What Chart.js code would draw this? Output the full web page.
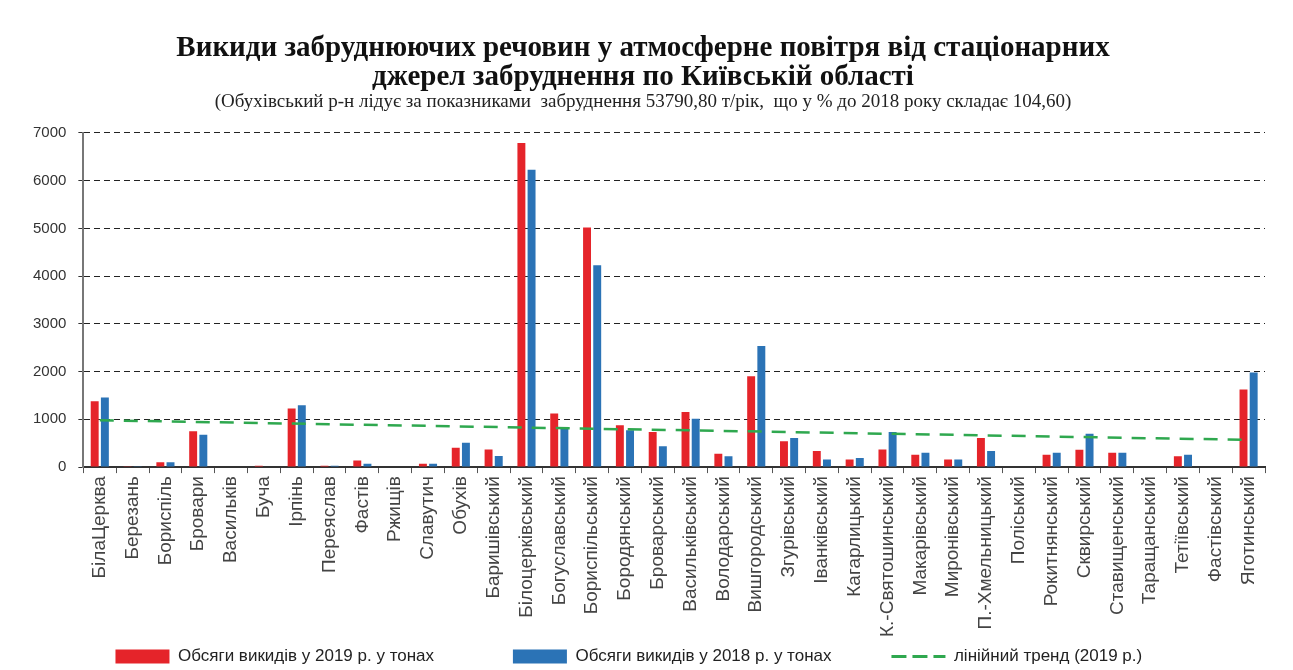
<!DOCTYPE html>
<html>
<head>
<meta charset="utf-8">
<script src="https://cdn.jsdelivr.net/npm/chart.js@4/dist/chart.umd.min.js"></script>
<style>
  body { margin: 0; background: #fff; }
  #wrap { width: 1293px; height: 670px; }
</style>
</head>
<body>
<div id="wrap"><canvas id="chart" width="1293" height="670"></canvas></div>
<script>
// Categories: cities, then districts
let districts = [
    'БілаЦерква', 'Березань', 'Бориспіль', 'Бровари', 'Васильків', 'Буча', 'Ірпінь',
    'Переяслав', 'Фастів', 'Ржищів', 'Славутич', 'Обухів', 'Баришівський',
    'Білоцерківський', 'Богуславський', 'Бориспільський', 'Бородянський', 'Броварський',
    'Васильківський', 'Володарський', 'Вишгородський', 'Згурівський', 'Іванківський',
    'Кагарлицький', 'К.-Святошинський', 'Макарівський', 'Миронівський', 'П.-Хмельницький',
    'Поліський', 'Рокитнянський', 'Сквирський', 'Ставищенський', 'Таращанський',
    'Тетіївський', 'Фастівський', 'Яготинський'
];

// Emissions, tons
let emissions2019 = [
    1380, 20, 100, 750, 0, 30, 1225, 30, 140, 0, 70, 405, 370,
    6790, 1120, 5020, 875, 735, 1155, 280, 1905, 540, 335, 160,
    370, 260, 160, 610, 0, 260, 365, 300, 0, 225, 0, 1625
];
let emissions2018 = [
    1460, 20, 100, 680, 0, 10, 1295, 30, 70, 0, 70, 510, 230,
    6230, 840, 4230, 770, 435, 1015, 225, 2535, 610, 160, 190,
    735, 300, 160, 335, 0, 300, 700, 300, 0, 260, 0, 1980
];

// Linear trend (2019) end points
let trendStart = 980;
let trendEnd = 570;

// y axis ticks
let yTicks = [0, 1000, 2000, 3000, 4000, 5000, 6000, 7000];

let trend = districts.map((d, i) => i === 0 ? trendStart : (i === districts.length - 1 ? trendEnd : null));

// extra space after legend items so they spread like the original
let legendGap = [15, 11, 6];

let ctx = document.getElementById('chart').getContext('2d');

let chart = new Chart(ctx, {
    type: 'bar',
    data: {
        labels: districts,
        datasets: [{
            label: 'Обсяги викидів у 2019 р. у тонах',
            data: emissions2019,
            backgroundColor: '#e5242a',
            pointStyle: 'rect',
            categoryPercentage: 0.62,
            barPercentage: 0.78,
            order: 2
        }, {
            label: 'Обсяги викидів у 2018 р. у тонах',
            data: emissions2018,
            backgroundColor: '#2b73b6',
            pointStyle: 'rect',
            categoryPercentage: 0.62,
            barPercentage: 0.78,
            order: 3
        }, {
            type: 'line',
            label: 'лінійний тренд (2019 р.)',
            data: trend,
            spanGaps: true,
            borderColor: '#2fa84f',
            backgroundColor: '#2fa84f',
            borderWidth: 2.5,
            borderDash: [14, 10],
            pointRadius: 0,
            pointStyle: 'line',
            order: 1
        }]
    },
    options: {
        responsive: false,
        animation: false,
        layout: { padding: { left: 21, right: 28, top: 34, bottom: -5 } },
        scales: {
            x: {
                grid: { offset: true, drawOnChartArea: false, tickLength: 6, color: '#555', lineWidth: 1 },
                border: { color: '#333', width: 2 },
                ticks: {
                    minRotation: 90, maxRotation: 90, autoSkip: false,
                    color: '#444', font: { family: 'Liberation Sans', size: 19 }, padding: 3
                }
            },
            y: {
                min: 0, max: 7000,
                afterBuildTicks: axis => { axis.ticks = yTicks.map(v => ({ value: v })); },
                ticks: {
                    color: '#333', padding: 12,
                    font: { family: 'Liberation Sans', size: 15 },
                    callback: v => v
                },
                grid: {
                    drawTicks: true,
                    tickLength: 5,
                    tickColor: '#333',
                    tickBorderDash: [],
                    color: c => c.tick && c.tick.value === 0 ? 'rgba(0,0,0,0)' : '#222',
                    lineWidth: 1
                },
                border: { color: '#777', width: 2, dash: [6, 4] }
            }
        },
        plugins: {
            title: {
                display: true,
                text: ['Викиди забруднюючих речовин у атмосферне повітря від стаціонарних', 'джерел забруднення по Київській області'],
                color: '#111',
                font: { family: 'Liberation Serif', size: 29, weight: 'bold', lineHeight: 1.0 },
                padding: { top: 0, bottom: 0 }
            },
            subtitle: {
                display: true,
                text: '(Обухівський р-н лідує за показниками  забруднення 53790,80 т/рік,  що у % до 2018 року складає 104,60)',
                color: '#222',
                font: { family: 'Liberation Serif', size: 19, lineHeight: 1.1 },
                padding: { top: 0, bottom: 20 }
            },
            legend: {
                position: 'bottom',
                labels: {
                    usePointStyle: true,
                    pointStyleWidth: 54,
                    boxHeight: 14,
                    padding: 8,
                    color: '#222',
                    font: { family: 'Liberation Sans', size: 17 },
                    generateLabels: function (chart) {
                        let items = Chart.defaults.plugins.legend.labels.generateLabels(chart);
                        items.sort((a, b) => a.datasetIndex - b.datasetIndex);
                        items.forEach(item => {
                            if (item.datasetIndex === 2) {
                                item.lineDash = [15, 6];
                                item.lineWidth = 3;
                                item.strokeStyle = '#2fa84f';
                            }
                            item.text += '\u00a0'.repeat(legendGap[item.datasetIndex]);
                        });
                        return items;
                    }
                }
            },
            tooltip: { enabled: false }
        }
    }
});
</script>
</body>
</html>
